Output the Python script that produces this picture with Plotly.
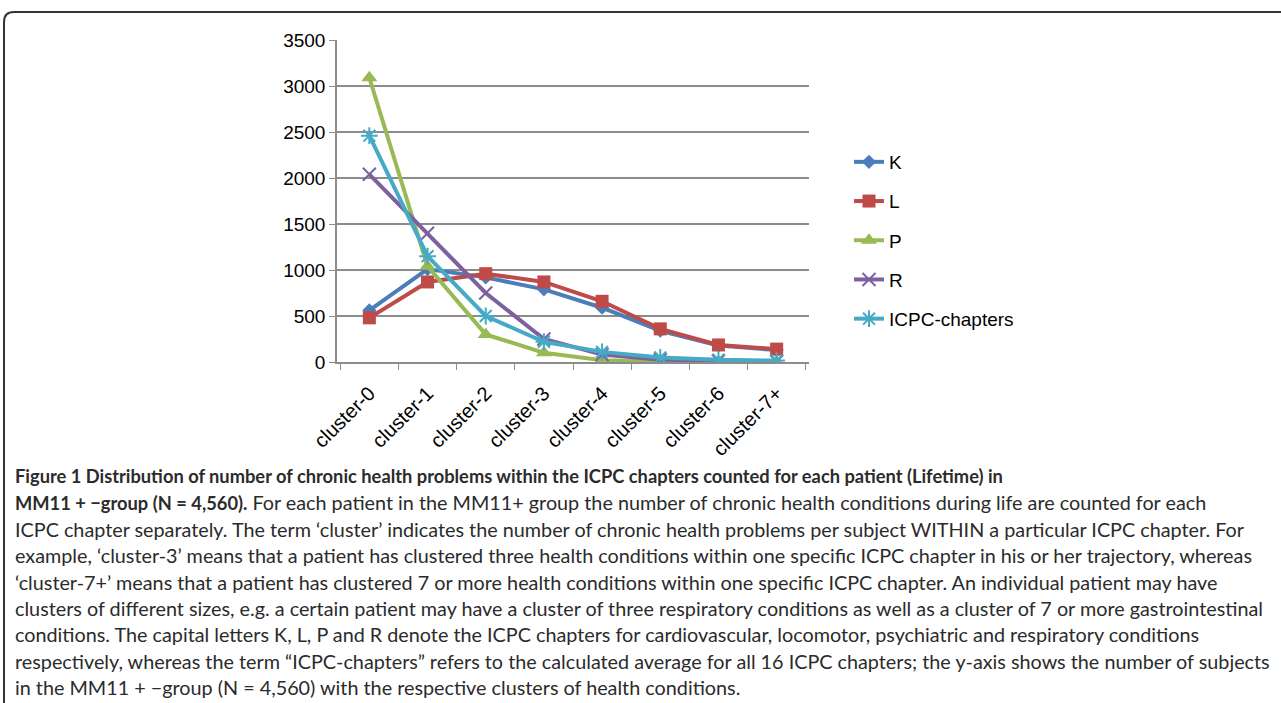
import plotly.graph_objects as go

categories = ["cluster-0", "cluster-1", "cluster-2", "cluster-3",
              "cluster-4", "cluster-5", "cluster-6", "cluster-7+"]
K = [560, 1010, 920, 790, 590, 340, 180, 130]
L = [480, 870, 960, 870, 660, 360, 185, 140]
P = [3090, 1040, 300, 100, 20, 5, 2, 1]
R = [2040, 1400, 750, 250, 80, 25, 10, 5]
ICPC = [2460, 1150, 500, 220, 110, 50, 25, 15]
y_ticks = [0, 500, 1000, 1500, 2000, 2500, 3000, 3500]

BOLD = '<b><span style="font-size:18.3px">{}</span></b>'
caption_lines = [
    BOLD.format("Figure 1 Distribution of number of chronic health problems within the ICPC chapters counted for each patient (Lifetime) in"),
    BOLD.format("MM11 + \u2212group (N = 4,560).") + " For each patient in the MM11+ group the number of chronic health conditions during life are counted for each",
    "ICPC chapter separately. The term \u2018cluster\u2019 indicates the number of chronic health problems per subject WITHIN a particular ICPC chapter. For",
    "example, \u2018cluster-3\u2019 means that a patient has clustered three health conditions within one specific ICPC chapter in his or her trajectory, whereas",
    "\u2018cluster-7+\u2019 means that a patient has clustered 7 or more health conditions within one specific ICPC chapter. An individual patient may have",
    "clusters of different sizes, e.g. a certain patient may have a cluster of three respiratory conditions as well as a cluster of 7 or more gastrointestinal",
    "conditions. The capital letters K, L, P and R denote the ICPC chapters for cardiovascular, locomotor, psychiatric and respiratory conditions",
    "respectively, whereas the term \u201cICPC-chapters\u201d refers to the calculated average for all 16 ICPC chapters; the y-axis shows the number of subjects",
    "in the MM11 + \u2212group (N = 4,560) with the respective clusters of health conditions.",
]

W, H = 1281, 703
PL, PR, PT, PB = 337, 809, 40, 362


def px(x):
    return (x - PL) / (PR - PL)


def py(y):
    return (PB - y) / (PB - PT)


series = [
    ("K", K, "#4A7EBB", dict(symbol="diamond", size=11)),
    ("L", L, "#BE4B48", dict(symbol="square", size=13)),
    ("P", P, "#98B954", dict(symbol="triangle-up", size=14)),
    ("R", R, "#7D60A0", dict(symbol="x-thin-open", size=13, line=dict(width=2, color="#7D60A0"))),
    ("ICPC-chapters", ICPC, "#46AAC5", dict(symbol="asterisk-open", size=14, line=dict(width=2, color="#46AAC5"))),
]

fig = go.Figure()
for name, vals, col, mk in series:
    fig.add_trace(go.Scatter(
        x=categories, y=vals, name=name, mode="lines+markers",
        line=dict(color=col, width=4),
        marker=dict(color=col, **mk),
        legendgroup=name,
    ))

y_font = dict(family="Liberation Sans, Arial, sans-serif", size=19, color="#000")
x_font = dict(family="Liberation Sans, Arial, sans-serif", size=20, color="#000")

fig.update_layout(
    width=W, height=H,
    margin=dict(l=PL, r=W - PR, t=PT, b=H - PB),
    paper_bgcolor="white", plot_bgcolor="white",
    showlegend=True,
    legend=dict(x=px(849), y=py(143), xanchor="left", yanchor="top",
                font=y_font, tracegroupgap=11.5, bgcolor="rgba(0,0,0,0)"),
    xaxis=dict(type="category", showline=True, linecolor="#8C8C8C", linewidth=1.5,
               ticks="outside", tickson="boundaries", ticklen=6, tickcolor="#8C8C8C",
               tickangle=-45, tickfont=x_font, showgrid=False, zeroline=False,
               ticklabelstandoff=10),
    yaxis=dict(range=[0, 3500], tickvals=y_ticks, showline=True, linecolor="#8C8C8C",
               linewidth=1.5, ticks="outside", ticklen=6, tickcolor="#8C8C8C",
               gridcolor="#8C8C8C", gridwidth=1.5, tickfont=y_font, zeroline=False),
)

# rounded frame around the figure
x0, y0, x1, y1, rr = px(4), py(12), px(1300), py(720), 10
path = (f"M {x0},{y1} L {x0},{py(12 + rr)} Q {x0},{y0} {px(4 + rr)},{y0} "
        f"L {x1},{y0}")
fig.add_shape(type="path", path=path, xref="paper", yref="paper",
              line=dict(color="#333", width=2))

cap_font = dict(family="Lato, Open Sans, sans-serif", size=19.8, color="#2b2b2b")
for i, txt in enumerate(caption_lines):
    fig.add_annotation(text=txt, xref="paper", yref="paper", x=px(13), y=py(476 + 26.4 * i),
                       xanchor="left", yanchor="middle", showarrow=False,
                       font=cap_font, align="left")

fig.write_html("out.html", config={"displayModeBar": False},
               post_script="document.body.style.margin='0';document.body.style.overflow='hidden';")
